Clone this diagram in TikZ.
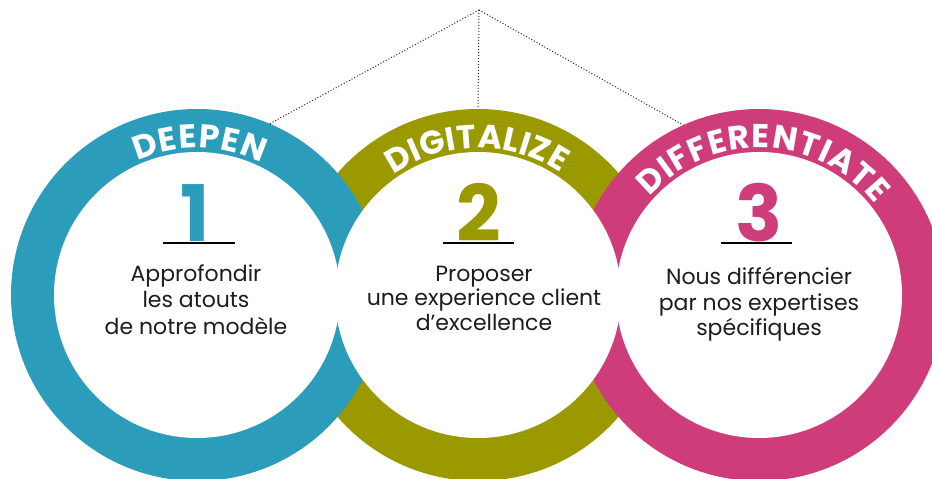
\documentclass[tikz,border=0pt]{standalone}
\usepackage{fontspec}
\setmainfont{Poppins}
\usetikzlibrary{decorations.text}
\definecolor{ringblue}{RGB}{43,156,186}
\definecolor{ringgreen}{RGB}{154,154,0}
\definecolor{ringpink}{RGB}{206,61,122}
\definecolor{txt}{RGB}{29,29,27}
\newcommand\ringfont{\fontsize{33}{33}\selectfont\bfseries}
\newcommand\numfont{\fontsize{78}{78}\selectfont\bfseries}
\newcommand\bodyfont{\fontsize{22}{26}\selectfont}
\begin{document}
\begin{tikzpicture}[x=1pt,y=1pt,
  outerdisk/.style={circle,inner sep=0pt,outer sep=0pt,minimum size=372pt},
  innerdisk/.style={circle,inner sep=0pt,outer sep=0pt,minimum size=286pt,fill=white},
  guide/.style={dotted,line width=1pt,draw=black!85},
  numlabel/.style={anchor=base,inner sep=0pt,font=\numfont},
  numrule/.style={line width=1.3pt,draw=black},
  body/.style={text=txt,font=\bodyfont,anchor=base,inner sep=0pt},
  ]
\useasboundingbox (0,0) rectangle (932,479);
\clip (0,0) rectangle (932,479);
% centres
\coordinate (apex) at (479,469);
% rings
\node[outerdisk,fill=ringgreen] (c2) at (478,184) {};
\node[outerdisk,fill=ringblue] (c1) at (197,184) {};
\node[outerdisk,fill=ringpink] (c3) at (759,184) {};
\node[innerdisk] (i1) at (197,184) {};
\node[innerdisk] (i2) at (478,184) {};
\node[innerdisk] (i3) at (759,184) {};
% dotted guides
\draw[guide] (apex) -- (c1.67);
\draw[guide] (apex) -- (c2.90);
\draw[guide] (apex) -- (c3.114);
% ring labels
\path[decorate,decoration={text along path,text align=fit to path,
  text={|\color{white}\ringfont|DEEPEN}}]
  (c1.center) ++(114:147) arc[start angle=114,end angle=64,radius=147];
\path[decorate,decoration={text along path,text align=fit to path,
  text={|\color{white}\ringfont|DIGITALIZE}}]
  (c2.center) ++(125:147) arc[start angle=125,end angle=56,radius=147];
\path[decorate,decoration={text along path,text align=fit to path,
  text={|\color{white}\ringfont|DIFFERENTIATE}}]
  (c3.center) ++(138:147) arc[start angle=138,end angle=38,radius=147];
% numbers
\node[numlabel,text=ringblue] (n1) at (195,237.5) {1};
\node[numlabel,text=ringgreen] (n2) at (479,237.5) {2};
\node[numlabel,text=ringpink] (n3) at (759,237.5) {3};
\coordinate (r1a) at (163,236); \coordinate (r1b) at (235,236);
\coordinate (r2a) at (443,236); \coordinate (r2b) at (514,236);
\coordinate (r3a) at (721,236); \coordinate (r3b) at (792,236);
\draw[numrule] (r1a) -- (r1b);
\draw[numrule] (r2a) -- (r2b);
\draw[numrule] (r3a) -- (r3b);
% body texts
\node[body] (t1a) at (196,197) {Approfondir};
\node[body] (t1b) at (196,171) {les atouts};
\node[body] (t1c) at (196,144) {de notre modèle};
\node[body] (t2a) at (484,197) {Proposer};
\node[body] (t2b) at (484,173) {une experience client};
\node[body] (t2c) at (484,148) {d’excellence};
\node[body] (t3a) at (759,194) {Nous différencier};
\node[body] (t3b) at (759,168) {par nos expertises};
\node[body] (t3c) at (759,143) {spécifiques};
\end{tikzpicture}
\end{document}
